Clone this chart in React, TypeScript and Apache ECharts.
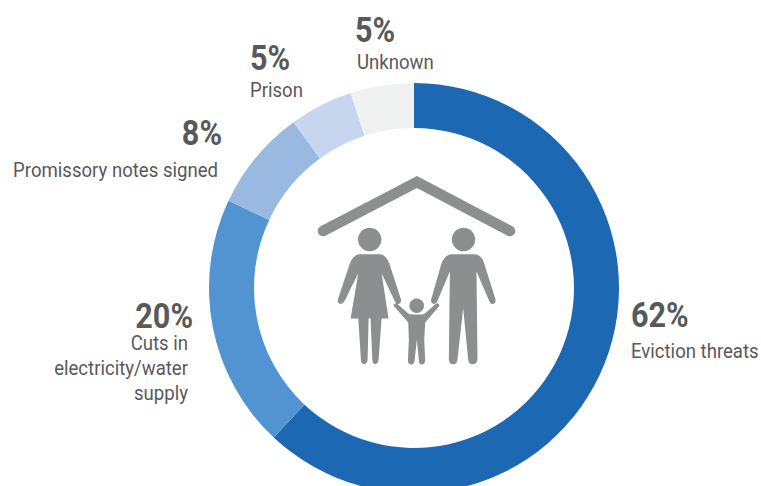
import React, { useEffect, useRef } from "react";
import * as echarts from "echarts";

const categories = ["Eviction threats", "Cuts in\nelectricity/water\nsupply", "Promissory notes signed", "Prison", "Unknown"];
const values = [62, 20, 8, 5, 5];
const colors = ["#1D68B2", "#5293D1", "#9AB9E0", "#C7D5EE", "#F0F2F2"];

// label placement: [pct x, pct y, pct align, name x, name y, name align]
const labelPlacement: [number, number, string, number, number, string][] = [
  [631, 315, "left", 631, 351, "left"],
  [193, 316, "right", 188, 368, "right"],
  [222, 133, "right", 218, 170.5, "right"],
  [250, 58, "left", 250, 90.5, "left"],
  [355, 30, "left", 357, 62.5, "left"],
];

const TEXT = "#58595B";
const ICON = "#8C8E90";

const womanPath =
  "M178 283 L240 283 Q258 285 268 310 L303 418 Q306 430 294 433 Q288 433 285 425 L245 340 L266 476 L245 476 L236 600 Q234 613 226 613 Q218 613 217 600 L212 476 L206 476 L203 600 Q201 613 192 613 Q184 613 183 600 L175 476 L152 476 L175 340 L133 425 Q128 433 120 432 Q111 428 114 418 L150 310 Q160 285 178 283 Z";
const manPath =
  "M455 283 L525 283 Q545 285 553 310 L587 418 Q589 430 578 433 Q572 433 569 425 L530 335 L533 598 Q532 613 518 613 Q506 613 505 598 L490 445 L473 598 Q472 613 460 613 Q447 613 447 598 L450 335 L412 425 Q408 433 400 432 Q391 428 394 418 L425 310 Q435 285 455 283 Z";
const childPath =
  "M291 431 L325 461 Q330 464 335 464 L365 464 Q370 464 375 461 L409 431 Q417 428 419 438 L376 488 L373 540 L376 603 Q375 614 366 614 Q358 614 357 603 L351 540 L344 603 Q343 614 334 614 Q325 614 324 603 L327 540 L325 488 L281 438 Q283 428 291 431 Z";

echarts.graphic.registerShape("woman", echarts.graphic.extendPath(womanPath, {}));
echarts.graphic.registerShape("man", echarts.graphic.extendPath(manPath, {}));
echarts.graphic.registerShape("child", echarts.graphic.extendPath(childPath, {}));

export default function App() {
  const ref = useRef<HTMLDivElement>(null);
  useEffect(() => {
    document.body.style.margin = "0";
    const chart = echarts.init(ref.current!, undefined, { renderer: "svg" });

    const textEls: any[] = [];
    categories.forEach((name, i) => {
      const p = labelPlacement[i];
      textEls.push({
        type: "text",
        x: p[0],
        y: p[1],
        scaleX: 0.85,
        style: {
          text: `${values[i]}%`,
          fontFamily: "Roboto",
          fontWeight: "bold",
          fontSize: 36,
          fill: TEXT,
          textAlign: p[2],
          textVerticalAlign: "middle",
        },
      });
      textEls.push({
        type: "text",
        x: p[3],
        y: p[4],
        scaleX: 0.885,
        style: {
          text: name,
          fontFamily: "Roboto",
          fontSize: 21,
          lineHeight: 25,
          fill: TEXT,
          textAlign: p[5],
          textVerticalAlign: "middle",
        },
      });
    });

    const iconTransform = { x: 300, y: 160, scaleX: 1 / 3, scaleY: 1 / 3 };
    const iconEls: any[] = [
      {
        type: "polyline",
        shape: { points: [[323, 231], [417, 182], [510, 231]] },
        style: { stroke: ICON, lineWidth: 10.5, lineCap: "round", lineJoin: "miter", fill: "none" },
      },
      { type: "circle", shape: { cx: 369.7, cy: 239.5, r: 11.7 }, style: { fill: ICON } },
      { type: "circle", shape: { cx: 463.5, cy: 239.5, r: 11.7 }, style: { fill: ICON } },
      { type: "circle", shape: { cx: 416.7, cy: 305.7, r: 7.3 }, style: { fill: ICON } },
      { type: "woman", ...iconTransform, style: { fill: ICON } },
      { type: "man", ...iconTransform, style: { fill: ICON } },
      { type: "child", ...iconTransform, style: { fill: ICON } },
    ];

    chart.setOption({
      animation: false,
      backgroundColor: "#FFFFFF",
      series: [
        {
          type: "pie",
          center: [414, 288],
          radius: [160, 205],
          startAngle: 90,
          clockwise: true,
          silent: true,
          label: { show: false },
          labelLine: { show: false },
          data: categories.map((name, i) => ({
            name,
            value: values[i],
            itemStyle: { color: colors[i] },
          })),
        },
      ],
      graphic: { elements: [...iconEls, ...textEls] },
    });
    return () => chart.dispose();
  }, []);
  return <div ref={ref} style={{ width: 761, height: 486 }} />;
}
